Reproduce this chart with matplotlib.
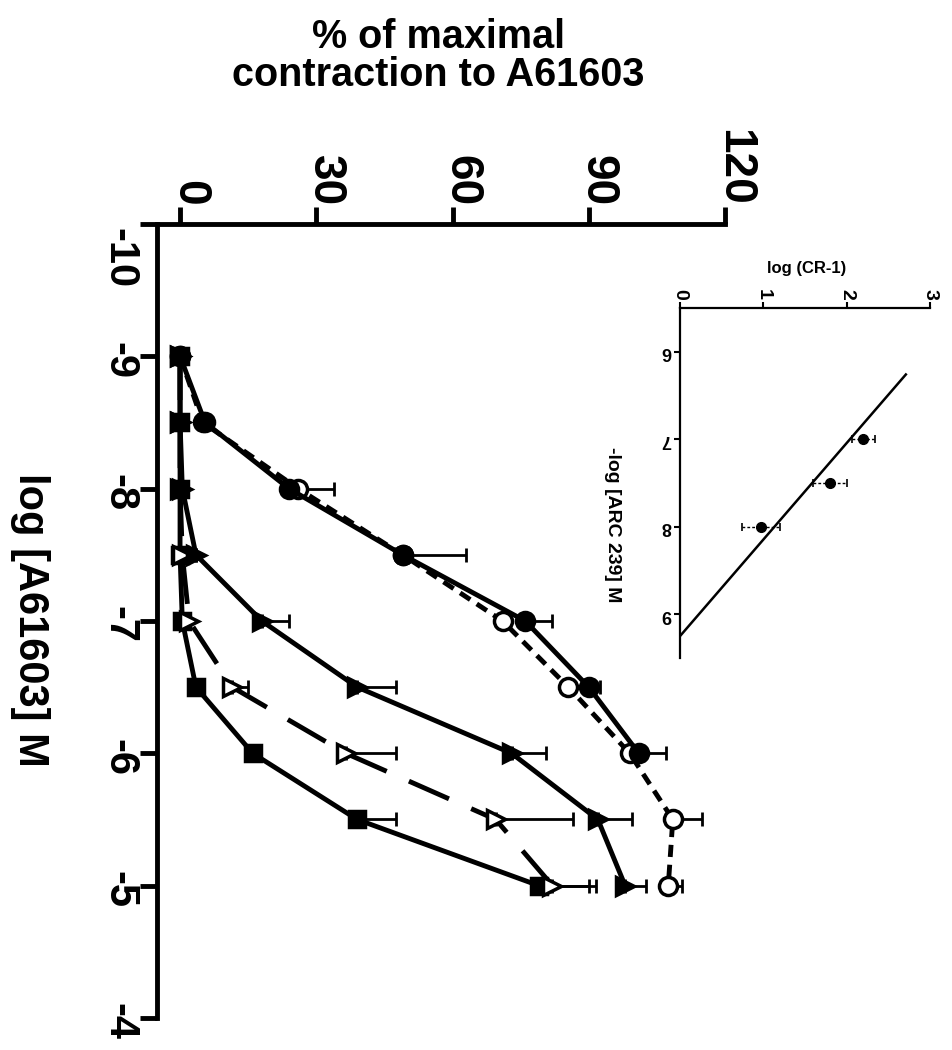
import numpy as np
import matplotlib.pyplot as plt
from matplotlib.transforms import ScaledTranslation

plt.rcParams["font.family"] = ["Liberation Sans", "DejaVu Sans"]
plt.rcParams["font.weight"] = "bold"

# log [A61603] M, half-log steps
log_a61603 = [-9, -8.5, -8, -7.5, -7, -6.5, -6, -5.5, -5]

# % of maximal contraction (mean, +SEM)
control = [0, 5.5, 24, 49, 76, 90, 101]
control_err = [0, 0, 0, 14, 6, 2.5, 6]
vehicle = [0, 5, 26, 49, 71, 85.5, 99, 108.5, 107.5]
vehicle_err = [0, 0, 8, 0, 0, 0, 0, 6.5, 3]
arc_10nm = [0, 0, 0.5, 3.5, 18, 39, 73, 92, 98]
arc_10nm_err = [0, 0, 0, 0, 6, 8.5, 7.5, 7.5, 4.5]
arc_30nm = [0, 0, 0, 0.5, 2, 11.5, 36.5, 69.5, 82]
arc_30nm_err = [0, 0, 0, 0, 0, 3.5, 11, 17, 9.5]
arc_100nm = [0, 0, 0, 0, 0.5, 3.5, 16, 39, 79]
arc_100nm_err = [0, 0, 0, 0, 0, 0, 1.5, 8.5, 11]

# Schild plot
schild_neg_log = [7, 7.5, 8]
schild_log_cr = [2.2, 1.8, 0.97]
schild_err = [0.14, 0.2, 0.23]
schild_fit_neg_log = [6.26, 9.25]
schild_fit_log_cr = [2.71, 0.0]

pct_ticks = [0, 30, 60, 90, 120]
conc_ticks = [-10, -9, -8, -7, -6, -5, -4]
cr_ticks = [0, 1, 2, 3]
arc_ticks = [6, 7, 8, 9]

fig = plt.figure(figsize=(9.53, 10.5), dpi=100)
ax = fig.add_axes([0.1651, 0.0305, 0.5957, 0.7562])


def draw_curve(mean, err, marker, face, ms, dashes=None, z=3):
    n = len(mean)
    y = log_a61603[:n]
    line, = ax.plot(mean, y, color="black", lw=3.5, marker=marker, ms=ms,
                    mfc=face, mec="black", mew=2.5, zorder=z)
    if dashes is not None:
        line.set_dashes(dashes)
    ax.errorbar(mean, y, xerr=[np.zeros(n), err], fmt="none", ecolor="black",
                elinewidth=2, capsize=5, capthick=2, zorder=z - 0.5)


draw_curve(arc_100nm, arc_100nm_err, "s", "black", 12)
draw_curve(arc_30nm, arc_30nm_err, ">", "white", 13, dashes=(9, 5))
draw_curve(arc_10nm, arc_10nm_err, ">", "black", 13)
draw_curve(vehicle, vehicle_err, "o", "white", 13, dashes=(2.5, 1.6), z=4)
draw_curve(control, control_err, "o", "black", 13, z=5)

ax.set_xlim(-5, 120)
ax.set_ylim(-4, -10)
ax.spines["right"].set_visible(False)
ax.spines["bottom"].set_visible(False)
for s in ("top", "left"):
    ax.spines[s].set_linewidth(3.5)
ax.xaxis.tick_top()
ax.set_xticks(pct_ticks)
ax.set_xticklabels([str(t) for t in pct_ticks], rotation=-90, fontsize=33,
                   fontweight="bold", va="bottom")
ax.set_yticks(conc_ticks)
ax.set_yticklabels([str(t) for t in conc_ticks], rotation=-90, fontsize=30,
                   fontweight="bold", va="center")
ax.tick_params(axis="both", length=12, width=3.5, direction="out", pad=1)

# nudge the rotated tick labels the way the old layout sat them
for lab in ax.get_xticklabels():
    lab.set_transform(lab.get_transform()
                      + ScaledTranslation(0.09, 0, fig.dpi_scale_trans))
for lab in ax.get_yticklabels():
    lab.set_transform(lab.get_transform()
                      + ScaledTranslation(0, -0.04, fig.dpi_scale_trans))
ax.get_yticklabels()[0].set_va("top")

fig.text(0.46, 1 - 18 / 1050, "% of maximal\ncontraction to A61603",
         ha="center", va="top", fontsize=28.5, fontweight="bold",
         linespacing=1.0)
fig.text(30 / 953, 1 - 620 / 1050, "log [A61603] M", rotation=-90,
         ha="center", va="center", fontsize=30, fontweight="bold")

# Schild regression inset
ins = fig.add_axes([0.7135, 0.3733, 0.2624, 0.3334])
ins.plot(schild_fit_log_cr, schild_fit_neg_log, color="black", lw=1.8)
eb = ins.errorbar(schild_log_cr, schild_neg_log, xerr=schild_err, fmt="o",
                  color="black", ms=7, elinewidth=1, capsize=3, capthick=1.2)
eb[2][0].set_linestyle((0, (2, 1.5)))
ins.set_xlim(0, 3)
ins.set_ylim(9.5, 5.5)
ins.spines["right"].set_visible(False)
ins.spines["bottom"].set_visible(False)
for s in ("top", "left"):
    ins.spines[s].set_linewidth(1.6)
ins.xaxis.tick_top()
ins.set_xticks(cr_ticks)
ins.set_xticklabels([str(t) for t in cr_ticks], rotation=-90, fontsize=14,
                    fontweight="bold", va="bottom")
ins.set_yticks(arc_ticks)
ins.set_yticklabels([str(t) for t in arc_ticks], rotation=180, fontsize=13,
                    fontweight="bold", va="center")
ins.tick_params(axis="both", length=4, width=1.5, direction="out", pad=2)
ins.set_facecolor("none")
fig.text(807 / 953, 1 - 268 / 1050, "log (CR-1)", ha="center", va="center",
         fontsize=12, fontweight="bold")
fig.text(613 / 953, 1 - 525 / 1050, "-log [ARC 239] M", rotation=-90,
         ha="center", va="center", fontsize=14, fontweight="bold")

fig.savefig("out.png", dpi=100)
